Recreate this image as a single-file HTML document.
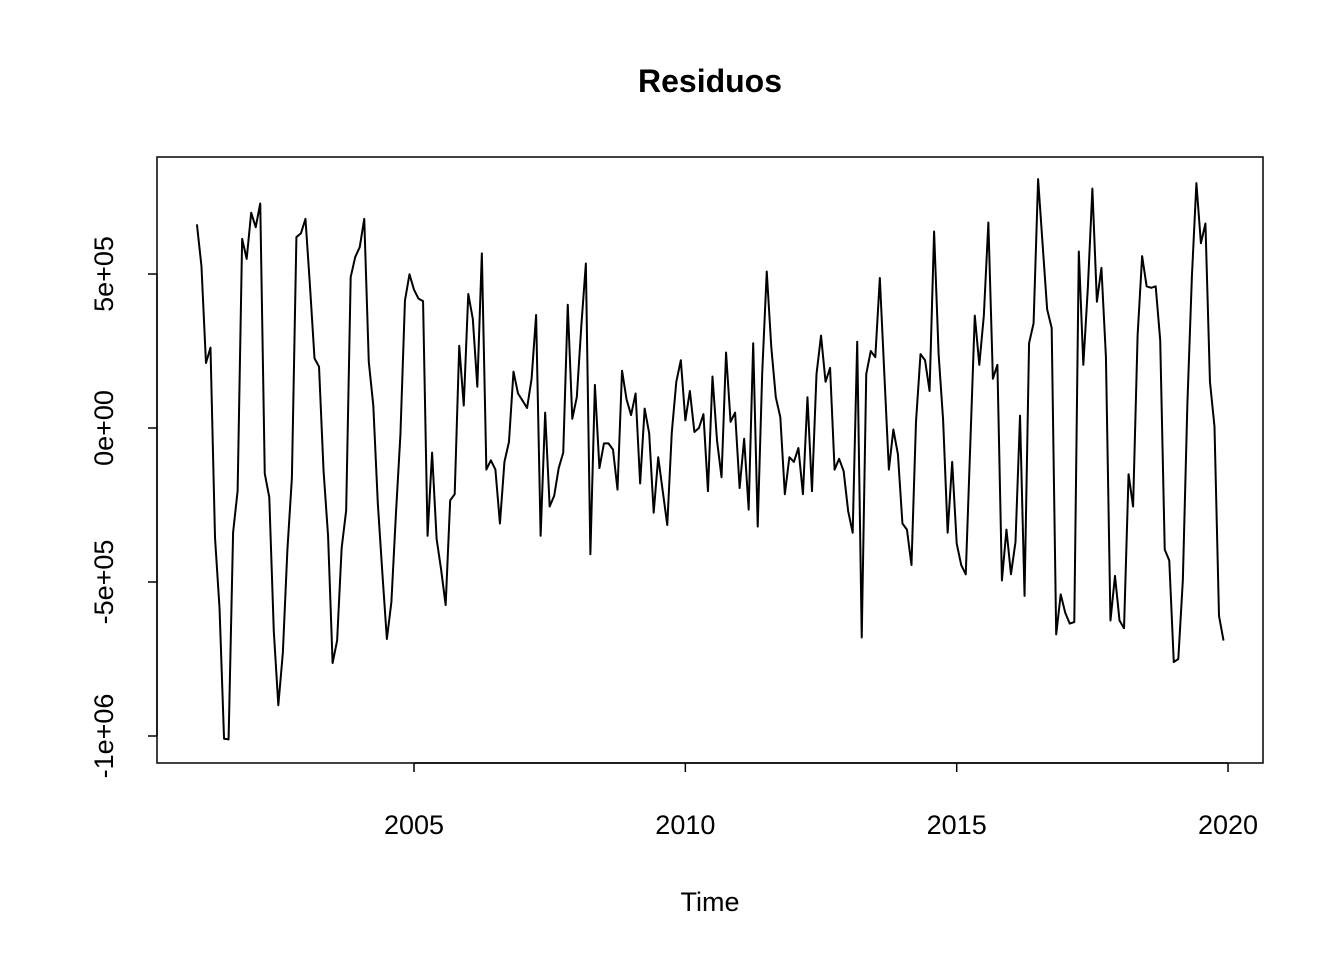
<!DOCTYPE html>
<html>
<head>
<meta charset="utf-8">
<style>
html,body{margin:0;padding:0;background:#fff;}
svg{display:block;font-family:"Liberation Sans",Arial,sans-serif;}
</style>
</head>
<body>
<svg id="chart" width="1344" height="960" viewBox="0 0 1344 960" xmlns="http://www.w3.org/2000/svg">
<rect x="0" y="0" width="1344" height="960" fill="#fff"/>
<text x="710" y="92" text-anchor="middle" font-size="32" font-weight="bold">Residuos</text>
<rect x="157" y="157" width="1106" height="606" fill="none" stroke="#000" stroke-width="1.5"/>
<text x="710" y="911" text-anchor="middle" font-size="27">Time</text>
<g id="xaxis"></g>
<g id="yaxis"></g>
<path id="series" fill="none" stroke="#000" stroke-width="2" stroke-linejoin="round"/>
</svg>
<script>
const startYear = 2001;
const freq = 12;
const xTicks = [2005, 2010, 2015, 2020];
const yTicks = [-1000000, -500000, 0, 500000];
const yTickLabels = ["-1e+06", "-5e+05", "0e+00", "5e+05"];
const residuals = [
0.661,0.526,0.211,0.261,-0.356,-0.585,-1.009,-1.011,-0.339,-0.204,0.614,0.549,
0.699,0.652,0.729,-0.148,-0.225,-0.660,-0.900,-0.730,-0.397,-0.162,0.620,0.632,
0.679,0.461,0.226,0.199,-0.139,-0.350,-0.763,-0.690,-0.390,-0.268,0.490,0.555,
0.587,0.679,0.215,0.073,-0.245,-0.470,-0.685,-0.565,-0.280,-0.021,0.414,0.499,
0.449,0.420,0.412,-0.350,-0.080,-0.360,-0.460,-0.575,-0.235,-0.215,0.267,0.073,
0.435,0.355,0.134,0.567,-0.135,-0.105,-0.135,-0.310,-0.110,-0.045,0.183,0.112,
0.089,0.065,0.160,0.367,-0.350,0.050,-0.255,-0.220,-0.130,-0.080,0.400,0.030,
0.100,0.332,0.534,-0.410,0.140,-0.130,-0.050,-0.050,-0.070,-0.200,0.186,0.093,
0.042,0.112,-0.180,0.063,-0.017,-0.275,-0.095,-0.205,-0.315,-0.015,0.150,0.220,
0.025,0.120,-0.013,0.000,0.045,-0.205,0.167,-0.040,-0.160,0.245,0.020,0.050,
-0.195,-0.035,-0.265,0.275,-0.320,0.180,0.508,0.263,0.100,0.035,-0.215,-0.095,
-0.110,-0.065,-0.215,0.100,-0.205,0.175,0.300,0.150,0.195,-0.135,-0.100,-0.140,
-0.270,-0.340,0.280,-0.680,0.175,0.250,0.230,0.487,0.175,-0.135,-0.005,-0.085,
-0.310,-0.330,-0.445,0.020,0.240,0.220,0.120,0.638,0.240,0.025,-0.340,-0.110,
-0.375,-0.445,-0.475,-0.055,0.365,0.205,0.365,0.667,0.160,0.205,-0.495,-0.330,
-0.475,-0.370,0.040,-0.545,0.275,0.340,0.808,0.595,0.385,0.325,-0.670,-0.540,
-0.600,-0.635,-0.630,0.573,0.205,0.455,0.777,0.410,0.520,0.230,-0.625,-0.480,
-0.625,-0.650,-0.150,-0.255,0.300,0.558,0.460,0.455,0.460,0.285,-0.395,-0.430,
-0.760,-0.750,-0.495,0.075,0.490,0.795,0.600,0.664,0.150,0.005,-0.610,-0.690
];
function xScale(t){ return 414 + (t - 2005) * 54.27; }
function yScale(v){ return 428 - (v / 1000000) * 308; }
const NS = "http://www.w3.org/2000/svg";
const xg = document.getElementById('xaxis');
const axLine = document.createElementNS(NS,'line');
axLine.setAttribute('x1', xScale(xTicks[0])); axLine.setAttribute('x2', xScale(xTicks[xTicks.length-1]));
axLine.setAttribute('y1', 763); axLine.setAttribute('y2', 763);
axLine.setAttribute('stroke','#000'); axLine.setAttribute('stroke-width','1.5');


xg.appendChild(axLine);
xTicks.forEach(function(t){
  const l = document.createElementNS(NS,'line');
  l.setAttribute('x1', xScale(t)); l.setAttribute('x2', xScale(t));
  l.setAttribute('y1', 763); l.setAttribute('y2', 772);
  l.setAttribute('stroke','#000'); l.setAttribute('stroke-width','1.5');
  
  
  xg.appendChild(l);
  const tx = document.createElementNS(NS,'text');
  tx.setAttribute('x', xScale(t)); tx.setAttribute('y', 834);
  tx.setAttribute('text-anchor','middle'); tx.setAttribute('font-size','27');
  tx.textContent = String(t);
  
  
  xg.appendChild(tx);
});
const yg = document.getElementById('yaxis');
const ayLine = document.createElementNS(NS,'line');
ayLine.setAttribute('x1', 157); ayLine.setAttribute('x2', 157);
ayLine.setAttribute('y1', yScale(yTicks[0])); ayLine.setAttribute('y2', yScale(yTicks[yTicks.length-1]));
ayLine.setAttribute('stroke','#000'); ayLine.setAttribute('stroke-width','1.5');


yg.appendChild(ayLine);
yTicks.forEach(function(v,i){
  const y = yScale(v);
  const l = document.createElementNS(NS,'line');
  l.setAttribute('x1', 148); l.setAttribute('x2', 157);
  l.setAttribute('y1', y); l.setAttribute('y2', y);
  l.setAttribute('stroke','#000'); l.setAttribute('stroke-width','1.5');
  
  
  yg.appendChild(l);
  const tx = document.createElementNS(NS,'text');
  tx.setAttribute('x', 0); tx.setAttribute('y', 0);
  tx.setAttribute('transform','translate(113,'+y+') rotate(-90)');
  tx.setAttribute('text-anchor','middle'); tx.setAttribute('font-size','27');
  tx.textContent = yTickLabels[i];
  
  
  yg.appendChild(tx);
});
let d = '';
residuals.forEach(function(v,i){
  const t = startYear + i / freq;
  d += (i === 0 ? 'M' : 'L') + xScale(t).toFixed(2) + ' ' + yScale(v * 1000000).toFixed(2) + ' ';
});
document.getElementById('series').setAttribute('d', d);
</script>
</body>
</html>
